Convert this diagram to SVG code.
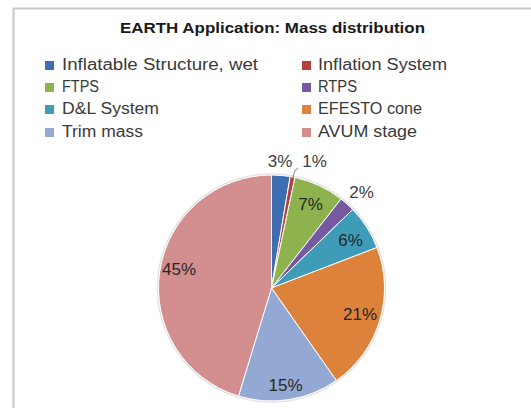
<svg xmlns="http://www.w3.org/2000/svg" width="531" height="408" viewBox="0 0 531 408">
<style>
.t{font-family:"Liberation Sans",Arial,sans-serif;font-size:14.5px;font-weight:bold;fill:#1a1a1a}
.lg{font-family:"Liberation Sans",Arial,sans-serif;font-size:16px;fill:#3a3a3a}
.pl{font-family:"Liberation Sans",Arial,sans-serif;font-size:17px;fill:#262626;text-anchor:middle}
.pl2{font-family:"Liberation Sans",Arial,sans-serif;font-size:17px;fill:#404040;text-anchor:middle}
.s{stroke:#ffffff;stroke-width:1;stroke-linejoin:round}
</style>
<rect x="0" y="0" width="531" height="408" fill="#ffffff"/>
<path d="M13.5 408 V8.5 H531" fill="none" stroke="#c8c8c8" stroke-width="2"/>
<g id="title"><text class="t" x="120" y="33" textLength="305" lengthAdjust="spacingAndGlyphs">EARTH Application: Mass distribution</text></g>
<g id="legend">
<rect x="45" y="61" width="9" height="9" fill="#3D6EB2"/><text class="lg" x="62" y="70" textLength="196" lengthAdjust="spacingAndGlyphs">Inflatable Structure, wet</text>
<rect x="302" y="61" width="9" height="9" fill="#B5413E"/><text class="lg" x="318" y="70" textLength="129" lengthAdjust="spacingAndGlyphs">Inflation System</text>
<rect x="45" y="83" width="9" height="9" fill="#8EB24E"/><text class="lg" x="62" y="92" textLength="37" lengthAdjust="spacingAndGlyphs">FTPS</text>
<rect x="302" y="83" width="9" height="9" fill="#7658A3"/><text class="lg" x="318" y="92" textLength="39" lengthAdjust="spacingAndGlyphs">RTPS</text>
<rect x="45" y="105" width="9" height="9" fill="#3F9CB8"/><text class="lg" x="62" y="114" textLength="97" lengthAdjust="spacingAndGlyphs">D&amp;L System</text>
<rect x="302" y="105" width="9" height="9" fill="#DD823B"/><text class="lg" x="318" y="114" textLength="104" lengthAdjust="spacingAndGlyphs">EFESTO cone</text>
<rect x="45" y="128" width="9" height="9" fill="#93A9D3"/><text class="lg" x="62" y="137" textLength="81" lengthAdjust="spacingAndGlyphs">Trim mass</text>
<rect x="302" y="128" width="9" height="9" fill="#D38F8F"/><text class="lg" x="318" y="137" textLength="99" lengthAdjust="spacingAndGlyphs">AVUM stage</text>
</g>
<g id="pie">
<circle cx="271.5" cy="288" r="114" fill="none" stroke="#e2e2e2" stroke-width="1.5"/>
<path id="s-infl-struct" class="s" fill="#3D6EB2" d="M271.5 288 L271.5 175 A113 113 0 0 1 290.15 176.55 Z"/>
<path id="s-infl-sys" class="s" fill="#B5413E" d="M271.5 288 L290.15 176.55 A113 113 0 0 1 295 177.47 Z"/>
<path id="s-ftps" class="s" fill="#8EB24E" d="M271.5 288 L295 177.47 A113 113 0 0 1 341.07 198.96 Z"/>
<path id="s-rtps" class="s" fill="#7658A3" d="M271.5 288 L341.07 198.96 A113 113 0 0 1 352.78 209.5 Z"/>
<path id="s-dl" class="s" fill="#3F9CB8" d="M271.5 288 L352.78 209.5 A113 113 0 0 1 376.99 247.5 Z"/>
<path id="s-efesto" class="s" fill="#DD823B" d="M271.5 288 L376.99 247.5 A113 113 0 0 1 336.3 380.57 Z"/>
<path id="s-trim" class="s" fill="#93A9D3" d="M271.5 288 L336.3 380.57 A113 113 0 0 1 238.46 396.06 Z"/>
<path id="s-avum" class="s" fill="#D38F8F" d="M271.5 288 L238.46 396.06 A113 113 0 0 1 271.5 175 Z"/>
</g>
<g id="connectors">
<path d="M298 168 Q294 170 293 178" fill="none" stroke="#7f7f7f" stroke-width="1"/>
</g>
<g id="labels">
<text class="pl2" x="280" y="167">3%</text>
<text class="pl2" x="314.5" y="167">1%</text>
<text class="pl" x="310.5" y="210">7%</text>
<text class="pl2" x="361.5" y="198">2%</text>
<text class="pl" x="350.5" y="246">6%</text>
<text class="pl" x="360" y="320">21%</text>
<text class="pl" x="285.5" y="391">15%</text>
<text class="pl" x="179" y="275">45%</text>
</g>
</svg>
